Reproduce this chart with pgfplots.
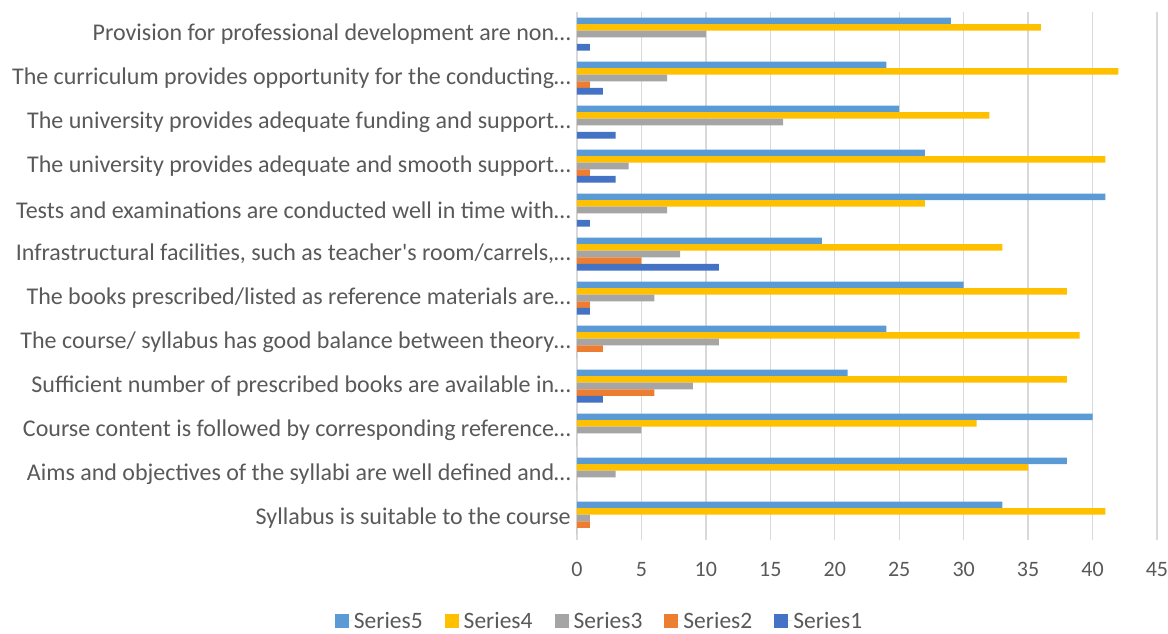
\documentclass[border=0pt]{standalone}
\usepackage{fontspec}
\setmainfont{Carlito}
\usepackage{pgfplots}
\usepackage{pgfplotstable}
\pgfplotsset{compat=1.18}
\definecolor{sfive}{HTML}{5B9BD5}
\definecolor{sfour}{HTML}{FFC000}
\definecolor{sthree}{HTML}{A5A5A5}
\definecolor{stwo}{HTML}{ED7D31}
\definecolor{sone}{HTML}{4472C4}
\definecolor{gridgray}{HTML}{D9D9D9}
\definecolor{labelgray}{HTML}{595959}
\pgfplotstableread{
y s1 s2 s3 s4 s5
0 0 1 1 41 33
1 0 0 3 35 38
2 0 0 5 31 40
3 2 6 9 38 21
4 0 2 11 39 24
5 1 1 6 38 30
6 11 5 8 33 19
7 1 0 7 27 41
8 3 1 4 41 27
9 3 0 16 32 25
10 2 1 7 42 24
11 1 0 10 36 29
}\datatable
\begin{document}
\begin{tikzpicture}
\useasboundingbox (-577pt,-93pt) rectangle (591pt,540pt);
\begin{axis}[
  at={(0,0)}, anchor=south west,
  scale only axis, width=580pt, height=528pt,
  xbar, bar width=6.6pt,
  xmin=0, xmax=45, ymin=-0.5, ymax=11.5,
  xtick={0,5,...,45}, ytick={0,...,11},
  yticklabels={
    {Syllabus is suitable to the course},
    {Aims and objectives of the syllabi are well defined and…},
    {Course content is followed by corresponding reference…},
    {Sufficient number of prescribed books are available in…},
    {The course/ syllabus has good balance between theory…},
    {The books prescribed/listed as reference materials are…},
    {Infrastructural facilities, such as teacher\textquotesingle s room/carrels,…},
    {Tests and examinations are conducted well in time with…},
    {The university provides adequate and smooth support…},
    {The university provides adequate funding and support…},
    {The curriculum provides opportunity for the conducting…},
    {Provision for professional development are non…}
  },
  xmajorgrids, grid style={draw=gridgray, line width=1.3pt},
  axis line style={draw=none},
  major tick length=0pt,
  /pgf/number format/assume math mode=true,
  tick label style={text=labelgray},
  yticklabel style={font=\fontsize{24}{28}\selectfont, anchor=east, inner sep=0pt, xshift=-6pt},
  xticklabel style={font=\fontsize{22}{26}\selectfont, anchor=north, inner sep=0pt, yshift=-22pt},
  legend columns=5,
  legend style={draw=none, at={(0.038,-0.153)}, anchor=center,
    font=\fontsize{23.5}{27}\selectfont, text=labelgray,
    nodes={inner sep=1pt},
    /tikz/every odd column/.append style={column sep=0pt},
    /tikz/every even column/.append style={column sep=21pt}},
  legend image code/.code={\fill[#1] (0pt,-7pt) rectangle (14pt,7pt); \path (0pt,0pt) -- (18pt,0pt);},
]
\addplot[fill=sfive, draw=none, bar shift=13.2pt] table[x=s5, y=y] {\datatable};
\addlegendentry{Series5}
\addplot[fill=sfour, draw=none, bar shift=6.6pt] table[x=s4, y=y] {\datatable};
\addlegendentry{Series4}
\addplot[fill=sthree, draw=none, bar shift=0pt] table[x=s3, y=y] {\datatable};
\addlegendentry{Series3}
\addplot[fill=stwo, draw=none, bar shift=-6.6pt] table[x=s2, y=y] {\datatable};
\addlegendentry{Series2}
\addplot[fill=sone, draw=none, bar shift=-13.2pt] table[x=s1, y=y] {\datatable};
\addlegendentry{Series1}
\end{axis}
\end{tikzpicture}
\end{document}
